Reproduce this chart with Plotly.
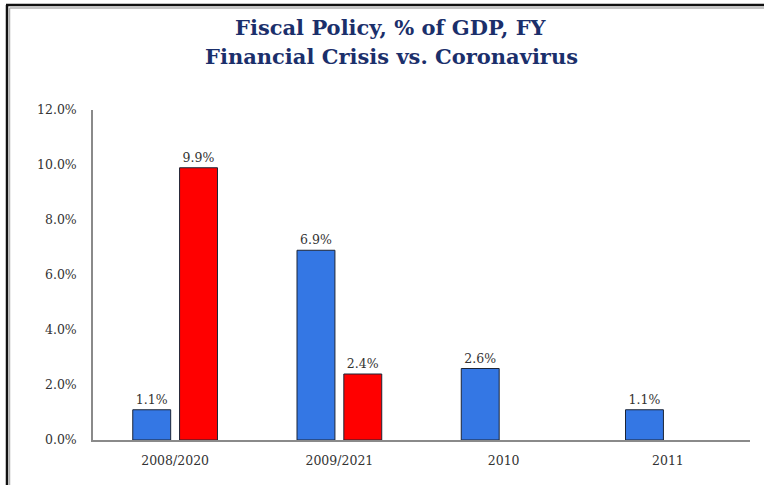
import plotly.graph_objects as go

categories = ["2008/2020", "2009/2021", "2010", "2011"]
financial_crisis = [1.1, 6.9, 2.6, 1.1]
coronavirus = [9.9, 2.4, None, None]
y_ticks = [0, 2, 4, 6, 8, 10, 12]
y_tick_labels = [f"{v:.1f}%" for v in y_ticks]

L, R, T, B = 93, 14, 110, 45
W, H = 764, 485
PW, PH = W - L - R, H - T - B

def px(x):
    return (x - L) / PW

def py(y):
    return (H - B - y) / PH

FONT = "DejaVu Serif"
TXT = "#333333"
outline = dict(color="#1c2536", width=1)

fig = go.Figure()
fig.add_trace(go.Bar(
    x=categories, y=financial_crisis, name="Financial Crisis",
    marker=dict(color="#3477E4", line=outline),
    texttemplate="%{y:.1f}%", textposition="outside",
    textfont=dict(family=FONT, size=12.5, color=TXT), cliponaxis=False,
))
fig.add_trace(go.Bar(
    x=categories, y=coronavirus, name="Coronavirus",
    marker=dict(color="#FF0000", line=outline),
    texttemplate="%{y:.1f}%", textposition="outside",
    textfont=dict(family=FONT, size=12.5, color=TXT), cliponaxis=False,
))

shapes = [
    dict(type="line", xref="paper", yref="paper", x0=px(6), x1=px(W + 5), y0=py(5), y1=py(5),
         line=dict(color="#111111", width=2.5)),
    dict(type="line", xref="paper", yref="paper", x0=px(7), x1=px(7), y0=py(5), y1=py(H + 5),
         line=dict(color="#111111", width=2.5)),
    dict(type="line", xref="paper", yref="paper", x0=px(9.5), x1=px(W + 5), y0=py(8), y1=py(8),
         line=dict(color="#b0b0b0", width=1.5)),
    dict(type="line", xref="paper", yref="paper", x0=px(9.5), x1=px(9.5), y0=py(8), y1=py(H + 5),
         line=dict(color="#b0b0b0", width=1.5)),
]

annotations = [
    dict(text="<b>Fiscal Policy, % of GDP, FY</b>", xref="paper", yref="paper",
         x=px(391), y=py(28), showarrow=False, xanchor="center", yanchor="middle",
         font=dict(family=FONT, size=21, color="#1B2F6B")),
    dict(text="<b>Financial Crisis vs. Coronavirus</b>", xref="paper", yref="paper",
         x=px(391), y=py(57), showarrow=False, xanchor="center", yanchor="middle",
         font=dict(family=FONT, size=21, color="#1B2F6B")),
]

fig.update_layout(
    width=W, height=H,
    margin=dict(l=L, r=R, t=T, b=B, pad=0),
    paper_bgcolor="white", plot_bgcolor="white",
    barmode="group", bargap=0.43, bargroupgap=0.19,
    showlegend=False,
    shapes=shapes, annotations=annotations,
    xaxis=dict(showline=True, linecolor="#8a8a8a", linewidth=1.5, showgrid=False,
               ticks="", tickfont=dict(family=FONT, size=12.5, color=TXT),
               ticklabelstandoff=8),
    yaxis=dict(range=[0, 12], tickvals=y_ticks, ticktext=y_tick_labels,
               showline=True, linecolor="#8a8a8a", linewidth=1.5, showgrid=False,
               zeroline=False, ticks="", tickfont=dict(family=FONT, size=12.5, color=TXT),
               ticklabelstandoff=12),
)

fig.write_html("out.html")
